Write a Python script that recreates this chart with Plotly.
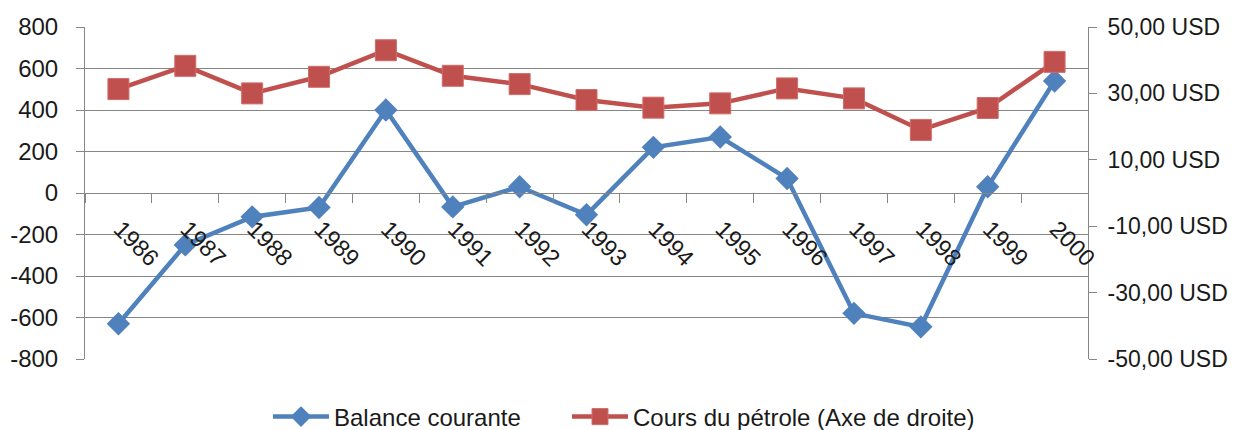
import plotly.graph_objects as go

years = ["1986", "1987", "1988", "1989", "1990", "1991", "1992", "1993",
         "1994", "1995", "1996", "1997", "1998", "1999", "2000"]
balance = [-630, -250, -115, -70, 400, -67, 30, -105, 220, 270, 70, -580, -645, 30, 540]
petrole = [31.3, 38.3, 30.0, 35.0, 43.0, 35.3, 32.8, 28.0, 25.7, 27.0, 31.5, 28.5, 19.0, 25.6, 39.5]

left_ticks = [-800, -600, -400, -200, 0, 200, 400, 600, 800]
left_labels = ["-800", "-600", "-400", "-200", "0", "200", "400", "600", "800"]
right_ticks = [-50, -30, -10, 10, 30, 50]
right_labels = ["-50,00 USD", "-30,00 USD", "-10,00 USD", "10,00 USD", "30,00 USD", "50,00 USD"]

BLUE = "#4F81BD"
RED = "#C0504D"
GRID = "#868686"
FONT = "Liberation Sans"
TXT = "#1a1a1a"

fig = go.Figure()
fig.add_trace(go.Scatter(
    x=years, y=balance, name="Balance courante", mode="lines+markers",
    line=dict(color=BLUE, width=4.5),
    marker=dict(symbol="diamond", size=18, color=BLUE),
    yaxis="y", xaxis="x", legend="legend",
))
fig.add_trace(go.Scatter(
    x=years, y=petrole, name="Cours du pétrole (Axe de droite)", mode="lines+markers",
    line=dict(color=RED, width=4.5),
    marker=dict(symbol="square", size=21, color=RED, line=dict(color="#D06C69", width=1)),
    yaxis="y2", xaxis="x", legend="legend2",
))

# page body has an 8px margin: figure drawn at (8, 8)
fig.update_layout(
    width=1228, height=422,
    margin=dict(l=77, r=148, t=19, b=71),
    paper_bgcolor="white", plot_bgcolor="white",
    font=dict(family=FONT, size=24, color=TXT),
    showlegend=True,
    legend=dict(orientation="h", xref="container", x=(268 - 8) / 1228, xanchor="left",
                yref="container", y=1 - (417 - 8) / 422, yanchor="middle",
                font=dict(size=24, family=FONT, color=TXT), itemwidth=56,
                bgcolor="rgba(0,0,0,0)"),
    legend2=dict(orientation="h", xref="container", x=(567 - 8) / 1228, xanchor="left",
                 yref="container", y=1 - (417 - 8) / 422, yanchor="middle",
                 font=dict(size=24, family=FONT, color=TXT), itemwidth=56,
                 bgcolor="rgba(0,0,0,0)"),
    xaxis=dict(
        type="category", anchor="free", position=0.5,
        range=[-0.5, 14.5],
        showline=True, linecolor=GRID, linewidth=1,
        ticks="outside", ticklen=9, tickcolor=GRID, tickson="boundaries",
        tickangle=45, tickfont=dict(size=23.5, family=FONT, color=TXT),
        ticklabelstandoff=12, ticklabelshift=2,
        showgrid=False, zeroline=False, automargin=False,
    ),
    yaxis=dict(
        range=[-800, 800], tickvals=left_ticks, ticktext=left_labels,
        tickfont=dict(size=24, family=FONT, color=TXT),
        showgrid=True, gridcolor=GRID, gridwidth=1,
        showline=True, linecolor=GRID, linewidth=1,
        ticks="outside", ticklen=8, tickcolor=GRID,
        zeroline=False, automargin=False, ticklabelstandoff=13,
    ),
    yaxis2=dict(
        range=[-50, 50], tickvals=right_ticks, ticktext=right_labels,
        tickfont=dict(size=23, family=FONT, color=TXT),
        overlaying="y", side="right", anchor="x",
        showgrid=False, showline=True, linecolor=GRID, linewidth=1,
        ticks="outside", ticklen=8, tickcolor=GRID,
        zeroline=False, automargin=False, ticklabelstandoff=6,
    ),
)

fig.write_html("out.html")
